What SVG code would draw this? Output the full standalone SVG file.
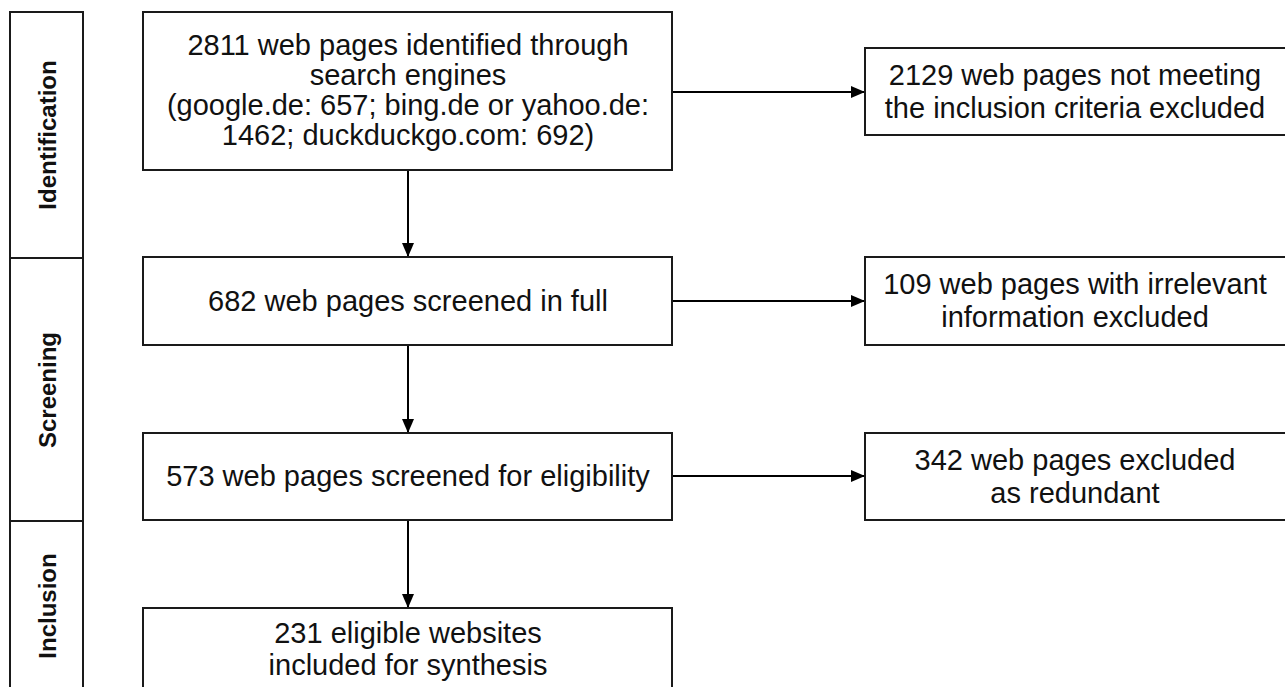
<svg xmlns="http://www.w3.org/2000/svg" width="1285" height="687" viewBox="0 0 1285 687">
<defs>
<marker id="arr" viewBox="0 0 14 12" refX="14" refY="6" markerWidth="14" markerHeight="12" markerUnits="userSpaceOnUse" orient="auto">
<path d="M0,0 L14,6 L0,12 Z" fill="#000"/>
</marker>
<style>
.box{fill:#fff;stroke:#1a1a1a;stroke-width:2}
.t{font-family:"Liberation Sans",Arial,sans-serif;font-size:29px;fill:#111;text-anchor:middle}
.ph{font-family:"Liberation Sans",Arial,sans-serif;font-size:24px;font-weight:bold;fill:#111;text-anchor:middle}
.c{stroke:#000;stroke-width:2;fill:none}
</style>
</defs>
<rect width="1285" height="687" fill="#fff"/>
<g id="phase-identification">
<rect class="box" x="10" y="12" width="73" height="246"/>
<text class="ph" transform="translate(56,135) rotate(-90)">Identification</text>
</g>
<g id="phase-screening">
<rect class="box" x="10" y="258" width="73" height="263"/>
<text class="ph" transform="translate(56,390) rotate(-90)">Screening</text>
</g>
<g id="phase-inclusion">
<rect class="box" x="10" y="521" width="73" height="180"/>
<text class="ph" transform="translate(56,606) rotate(-90)">Inclusion</text>
</g>
<g id="connectors">
<line class="c" x1="408" y1="170" x2="408" y2="257" marker-end="url(#arr)"/>
<line class="c" x1="408" y1="345" x2="408" y2="433" marker-end="url(#arr)"/>
<line class="c" x1="408" y1="520" x2="408" y2="608" marker-end="url(#arr)"/>
<line class="c" x1="672" y1="92" x2="865" y2="92" marker-end="url(#arr)"/>
<line class="c" x1="672" y1="301" x2="865" y2="301" marker-end="url(#arr)"/>
<line class="c" x1="672" y1="476" x2="865" y2="476" marker-end="url(#arr)"/>
</g>
<g id="identified">
<rect class="box" x="143" y="12" width="529" height="158"/>
<text class="t" x="408" y="55">2811 web pages identified through</text>
<text class="t" x="408" y="85">search engines</text>
<text class="t" x="408" y="115">(google.de: 657; bing.de or yahoo.de:</text>
<text class="t" x="408" y="145">1462; duckduckgo.com: 692)</text>
</g>
<g id="excluded-criteria">
<rect class="box" x="865" y="48" width="430" height="87"/>
<text class="t" x="1075" y="85">2129 web pages not meeting</text>
<text class="t" x="1075" y="118">the inclusion criteria excluded</text>
</g>
<g id="screened-full">
<rect class="box" x="143" y="257" width="529" height="88"/>
<text class="t" x="408" y="311">682 web pages screened in full</text>
</g>
<g id="excluded-irrelevant">
<rect class="box" x="865" y="257" width="430" height="88"/>
<text class="t" x="1075" y="294">109 web pages with irrelevant</text>
<text class="t" x="1075" y="327">information excluded</text>
</g>
<g id="screened-eligibility">
<rect class="box" x="143" y="433" width="529" height="87"/>
<text class="t" x="408" y="486">573 web pages screened for eligibility</text>
</g>
<g id="excluded-redundant">
<rect class="box" x="865" y="433" width="430" height="87"/>
<text class="t" x="1075" y="470">342 web pages excluded</text>
<text class="t" x="1075" y="503">as redundant</text>
</g>
<g id="included">
<rect class="box" x="143" y="608" width="529" height="100"/>
<text class="t" x="408" y="643">231 eligible websites</text>
<text class="t" x="408" y="675">included for synthesis</text>
</g>
</svg>
